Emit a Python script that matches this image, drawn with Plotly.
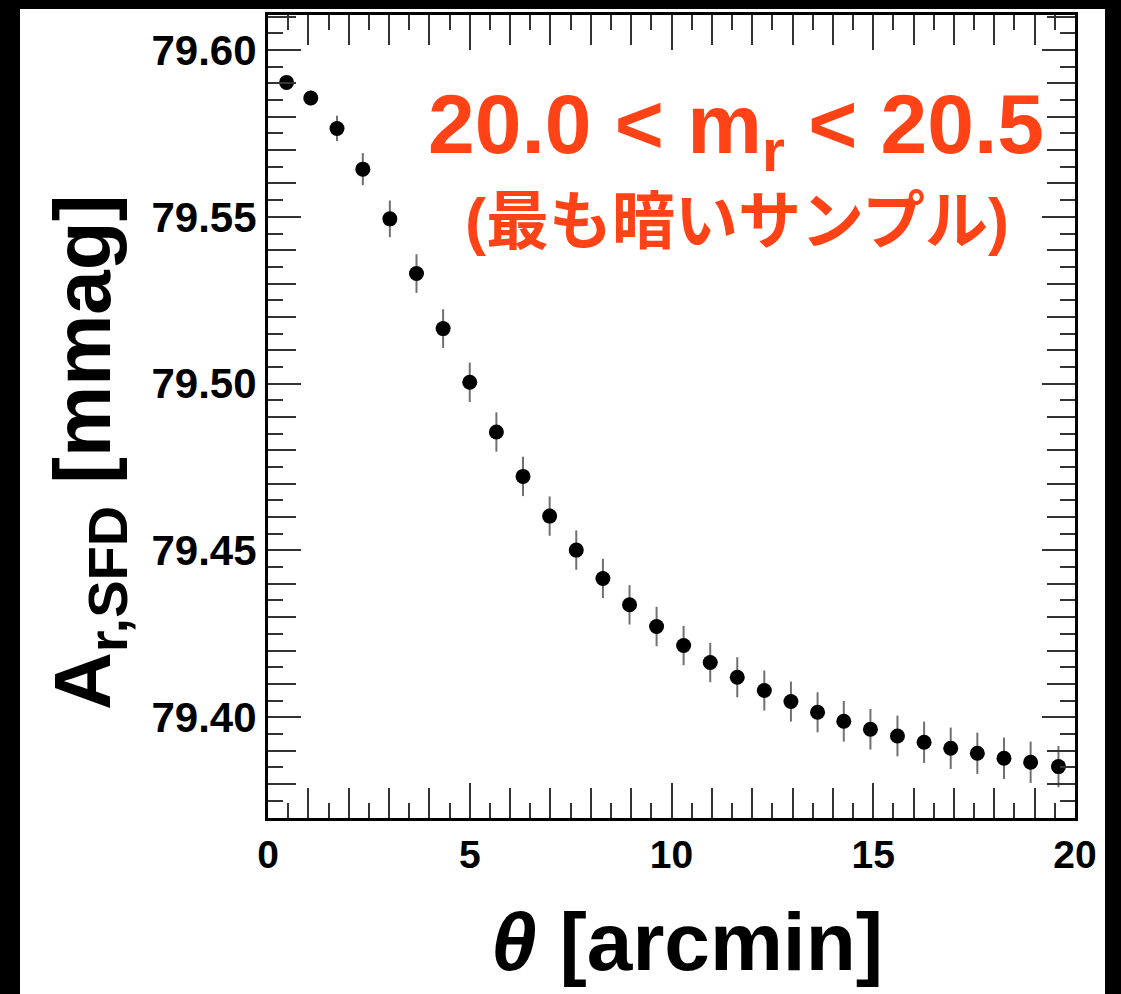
import plotly.graph_objects as go

# angular separation bins [arcmin]
theta = [0.46, 1.06, 1.71, 2.35, 3.02, 3.68, 4.34, 5.00, 5.66, 6.32,
         6.98, 7.64, 8.30, 8.96, 9.63, 10.30, 10.96, 11.63, 12.30, 12.96,
         13.62, 14.27, 14.93, 15.60, 16.26, 16.92, 17.58, 18.24, 18.90, 19.59]
# mean extinction A_r,SFD [mmag]
a_sfd = [79.5903, 79.5856, 79.5765, 79.5643, 79.5494, 79.5330, 79.5165, 79.5004, 79.4855, 79.4722,
         79.4603, 79.4501, 79.4416, 79.4337, 79.4272, 79.4215, 79.4164, 79.4120, 79.4080, 79.4047,
         79.4015, 79.3988, 79.3964, 79.3944, 79.3925, 79.3907, 79.3892, 79.3877, 79.3865, 79.3852]
a_err = [0.0012, 0.0022, 0.0038, 0.0048, 0.0055, 0.0058, 0.0058, 0.0059, 0.0059, 0.0059,
         0.0059, 0.0059, 0.0059, 0.0059, 0.0059, 0.0059, 0.0059, 0.0060, 0.0060, 0.0060,
         0.0060, 0.0061, 0.0061, 0.0061, 0.0062, 0.0062, 0.0062, 0.0062, 0.0062, 0.0062]

x_range = [0, 20]
y_range = [79.3698, 79.6105]

LAT = "Liberation Sans, Arial, Helvetica, sans-serif"
JP = "Liberation Sans, Noto Sans CJK JP, sans-serif"
ORANGE = "#FF4316"
TICK = "#333333"

W, H = 1121, 994
L, R, T, B = 268, 46, 13, 176
PW, PH = W - L - R, H - T - B


def px(x):
    return (x - L) / PW


def py(y):
    return (H - B - y) / PH


fig = go.Figure()
fig.add_trace(go.Scatter(
    x=theta, y=a_sfd, mode="markers",
    marker=dict(color="black", size=15, symbol="circle"),
    error_y=dict(type="data", array=a_err, color="#707070", thickness=2, width=0),
    showlegend=False, hoverinfo="x+y",
))
# invisible companion trace so the labelled overlay axes are drawn
fig.add_trace(go.Scatter(
    x=theta, y=a_sfd, mode="markers", xaxis="x2", yaxis="y2",
    marker=dict(opacity=0), showlegend=False, hoverinfo="skip",
))

common = dict(showline=True, linecolor="black", linewidth=3, mirror="ticks",
              showgrid=False, zeroline=False, ticks="inside", tickwidth=2, tickcolor=TICK)

fig.update_layout(
    width=W, height=H,
    margin=dict(l=L, r=R, t=T, b=B),
    paper_bgcolor="black", plot_bgcolor="white",
    xaxis=dict(range=x_range, dtick=1, tick0=0, ticklen=30, showticklabels=False,
               minor=dict(dtick=0.5, tick0=0, ticks="inside", ticklen=15, tickwidth=2, tickcolor=TICK),
               **common),
    yaxis=dict(range=y_range, dtick=0.01, tick0=79.37, ticklen=28, showticklabels=False,
               minor=dict(dtick=0.005, tick0=79.37, ticks="inside", ticklen=15, tickwidth=2, tickcolor=TICK),
               **common),
    xaxis2=dict(range=x_range, dtick=5, tick0=0, ticklen=35, overlaying="x", side="bottom",
                anchor="y2", tickfont=dict(family=LAT, size=39, color="black", weight="bold"),
                **common),
    yaxis2=dict(range=y_range, dtick=0.05, tick0=79.40, ticklen=33, overlaying="y", side="left",
                anchor="x2", tickformat=".2f",
                tickfont=dict(family=LAT, size=42, color="black", weight="bold"),
                **common),
    shapes=[dict(type="rect", xref="paper", yref="paper", layer="below",
                 x0=px(20), x1=px(1105), y0=py(1000), y1=py(7),
                 fillcolor="white", line=dict(width=0))],
    annotations=[
        dict(text="20.0 &lt; m<sub>r</sub> &lt; 20.5", xref="paper", yref="paper",
             x=px(736), y=py(128), xanchor="center", yanchor="middle", showarrow=False,
             font=dict(family=LAT, size=84, color=ORANGE, weight="bold")),
        dict(text="(最も暗いサンプル)", xref="paper", yref="paper",
             x=px(737), y=py(220), xanchor="center", yanchor="middle", showarrow=False,
             font=dict(family=JP, size=63, color=ORANGE, weight="bold")),
        dict(text="A<sub>r,SFD</sub> [mmag]", xref="paper", yref="paper",
             x=px(89), y=py(452), xanchor="center", yanchor="middle", showarrow=False,
             textangle=-90,
             font=dict(family=LAT, size=80, color="black", weight="bold")),
        dict(text="<i>θ</i> [arcmin]", xref="paper", yref="paper",
             x=px(687), y=py(942), xanchor="center", yanchor="middle", showarrow=False,
             font=dict(family=LAT, size=82, color="black", weight="bold")),
    ],
)

fig.write_html("out.html", config={"displayModeBar": False},
               post_script="document.body.style.margin='0';document.body.style.background='black';")
